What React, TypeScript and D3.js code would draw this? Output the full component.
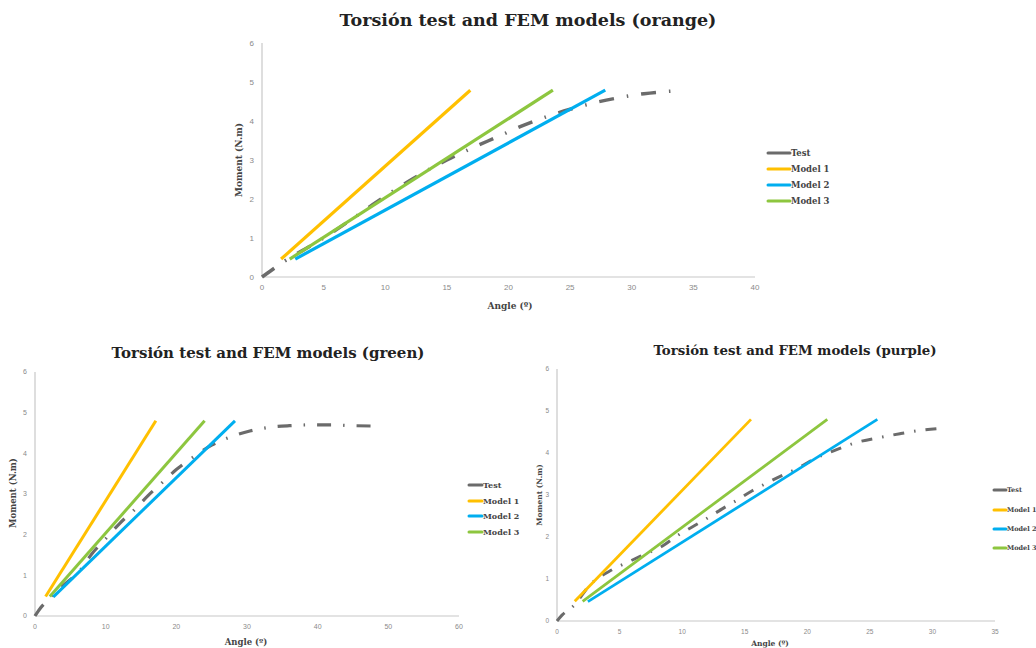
import React from "react";
import * as d3 from "d3";

// ---------- DATA ----------
const seriesNames = ["Test", "Model 1", "Model 2", "Model 3"];

// Orange specimen
const orangeTest: [number, number][] = [
  [0, 0], [0.8, 0.18], [1.8, 0.4], [3.5, 0.72], [5, 1.0], [7, 1.42], [9, 1.86], [11, 2.28],
  [13, 2.66], [15, 3.0], [17, 3.3], [19, 3.58], [21, 3.86], [23, 4.1], [25, 4.3],
  [27, 4.47], [29, 4.6], [31, 4.7], [33, 4.76], [34, 4.78],
];
const orangeModel1: [number, number][] = [[1.55, 0.46], [16.9, 4.79]];
const orangeModel2: [number, number][] = [[2.7, 0.46], [27.85, 4.79]];
const orangeModel3: [number, number][] = [[2.25, 0.46], [23.6, 4.79]];

// Green specimen
const greenTest: [number, number][] = [
  [0, 0], [0.7, 0.18], [2.1, 0.43], [4, 0.75], [6.4, 1.13], [8, 1.52], [10, 1.9], [12, 2.28],
  [14, 2.6], [16, 2.96], [18, 3.28], [20, 3.6], [22.5, 3.92], [25, 4.2], [27.6, 4.4],
  [30.4, 4.55], [33.2, 4.64], [36, 4.68], [39, 4.7], [42, 4.7], [45, 4.68], [48.3, 4.67],
];
const greenModel1: [number, number][] = [[1.5, 0.48], [17.1, 4.8]];
const greenModel2: [number, number][] = [[2.6, 0.47], [28.3, 4.8]];
const greenModel3: [number, number][] = [[2.1, 0.48], [24.0, 4.8]];

// Purple specimen
const purpleTest: [number, number][] = [
  [0, 0], [0.4, 0.14], [1.25, 0.34], [2.7, 0.88], [4.4, 1.22], [5.8, 1.42], [7.1, 1.6],
  [8.4, 1.78], [9.6, 2.03], [10.7, 2.22], [11.9, 2.43], [13.2, 2.67], [14.4, 2.88],
  [15.6, 3.1], [17, 3.32], [18.1, 3.48], [19.2, 3.63], [20.5, 3.85], [22.1, 4.05],
  [23.8, 4.24], [26, 4.38], [27.4, 4.46], [28.8, 4.53], [30.7, 4.59],
];
const purpleModel1: [number, number][] = [[1.42, 0.47], [15.5, 4.8]];
const purpleModel2: [number, number][] = [[2.47, 0.46], [25.6, 4.8]];
const purpleModel3: [number, number][] = [[2.05, 0.47], [21.6, 4.8]];

const titles = [
  "Torsión test and FEM models (orange)",
  "Torsión test and FEM models (green)",
  "Torsión test and FEM models (purple)",
];
const xAxisTitle = "Angle (º)";
const yAxisTitle = "Moment (N.m)";
const yTicks = [0, 1, 2, 3, 4, 5, 6];
const xTicksOrange = [0, 5, 10, 15, 20, 25, 30, 35, 40];
const xTicksGreen = [0, 10, 20, 30, 40, 50, 60];
const xTicksPurple = [0, 5, 10, 15, 20, 25, 30, 35];

// ---------- STYLE ----------
const colors = ["#6b6b6b", "#FFC000", "#00AEEF", "#8DC63F"];
const serif = "'DejaVu Serif', 'Liberation Serif', serif";
const sans = "'Liberation Sans', Arial, sans-serif";

type Panel = {
  title: string;
  titleX: number; titleY: number; titleSize: number;
  left: number; right: number; top: number; bottom: number;
  xTicks: number[];
  series: [number, number][][];
  tickSize: number;
  xTitle: [number, number]; yTitle: [number, number]; axisTitleSize: number;
  legendX: number; legendYs: number[]; legendLen: number; legendSize: number;
  dash: string; testWidth: number; modelWidth: number;
};

const panels: Panel[] = [
  {
    title: titles[0], titleX: 528, titleY: 26, titleSize: 17.5,
    left: 262, right: 755, top: 43, bottom: 277,
    xTicks: xTicksOrange,
    series: [orangeTest, orangeModel1, orangeModel2, orangeModel3],
    tickSize: 8,
    xTitle: [510, 309], yTitle: [242, 160], axisTitleSize: 9,
    legendX: 768, legendYs: [153, 169, 185, 201], legendLen: 22, legendSize: 8.5,
    dash: "15,13,1.5,13", testWidth: 3.5, modelWidth: 3.2,
  },
  {
    title: titles[1], titleX: 268, titleY: 358, titleSize: 15,
    left: 35, right: 459, top: 372, bottom: 616,
    xTicks: xTicksGreen,
    series: [greenTest, greenModel1, greenModel2, greenModel3],
    tickSize: 7,
    xTitle: [246, 645], yTitle: [16, 493], axisTitleSize: 8.5,
    legendX: 469, legendYs: [485, 501, 516, 532], legendLen: 13, legendSize: 8,
    dash: "14,12,1.5,12", testWidth: 3.2, modelWidth: 3,
  },
  {
    title: titles[2], titleX: 795, titleY: 355, titleSize: 13.3,
    left: 557, right: 995, top: 369, bottom: 621,
    xTicks: xTicksPurple,
    series: [purpleTest, purpleModel1, purpleModel2, purpleModel3],
    tickSize: 6.5,
    xTitle: [770, 646], yTitle: [542, 495], axisTitleSize: 7.5,
    legendX: 994, legendYs: [490, 510, 529, 548], legendLen: 12, legendSize: 6.5,
    dash: "11,10,1.5,10", testWidth: 3, modelWidth: 2.8,
  },
];

function PanelView({ p }: { p: Panel }) {
  const xMax = p.xTicks[p.xTicks.length - 1];
  const x = d3.scaleLinear().domain([0, xMax]).range([p.left, p.right]);
  const y = d3.scaleLinear().domain([0, 6]).range([p.bottom, p.top]);
  const line = d3.line<[number, number]>().x((d) => x(d[0])).y((d) => y(d[1])).curve(d3.curveMonotoneX);
  const order = [0, 1, 3, 2];
  return (
    <g>
      <text x={p.titleX} y={p.titleY} textAnchor="middle" fontFamily={serif} fontWeight="bold"
        fontSize={p.titleSize} fill="#222">{p.title}</text>
      <line x1={p.left} x2={p.left} y1={p.top} y2={p.bottom} stroke="#c8c8c8" strokeWidth={1.2} />
      <line x1={p.left} x2={p.right} y1={p.bottom} y2={p.bottom} stroke="#c8c8c8" strokeWidth={1.2} />
      {yTicks.map((t) => (
        <text key={"y" + t} x={p.left - 8} y={y(t)} dy="0.35em" textAnchor="end" fontFamily={sans}
          fontSize={p.tickSize} fill="#8a8a8a">{t}</text>
      ))}
      {p.xTicks.map((t) => (
        <text key={"x" + t} x={x(t)} y={p.bottom + 13} textAnchor="middle" fontFamily={sans}
          fontSize={p.tickSize} fill="#8a8a8a">{t}</text>
      ))}
      <text x={p.xTitle[0]} y={p.xTitle[1]} textAnchor="middle" fontFamily={serif} fontWeight="bold"
        fontSize={p.axisTitleSize} fill="#444">{xAxisTitle}</text>
      <text transform={`translate(${p.yTitle[0]},${p.yTitle[1]}) rotate(-90)`} textAnchor="middle"
        fontFamily={serif} fontWeight="bold" fontSize={p.axisTitleSize} fill="#444">{yAxisTitle}</text>
      {order.map((i) => (
        <path key={"s" + i} d={line(p.series[i]) || ""} fill="none" stroke={colors[i]}
          strokeWidth={i === 0 ? p.testWidth : p.modelWidth}
          strokeDasharray={i === 0 ? p.dash : undefined}
          strokeLinecap="butt" />
      ))}
      {seriesNames.map((n, i) => (
        <g key={"l" + i}>
          <line x1={p.legendX} x2={p.legendX + p.legendLen} y1={p.legendYs[i]} y2={p.legendYs[i]}
            stroke={colors[i]} strokeWidth={3} strokeLinecap="round" />
          <text x={p.legendX + p.legendLen + 1} y={p.legendYs[i]} dy="0.35em" fontFamily={serif}
            fontWeight="bold" fontSize={p.legendSize} fill="#444">{n}</text>
        </g>
      ))}
    </g>
  );
}

export default function App() {
  return (
    <div style={{ position: "absolute", left: 0, top: 0, width: 1036, height: 648, background: "#fff" }}>
      <svg width={1036} height={648} viewBox="0 0 1036 648" style={{ display: "block" }}>
        <rect width={1036} height={648} fill="#fff" />
        {panels.map((p, i) => <PanelView key={i} p={p} />)}
      </svg>
    </div>
  );
}
